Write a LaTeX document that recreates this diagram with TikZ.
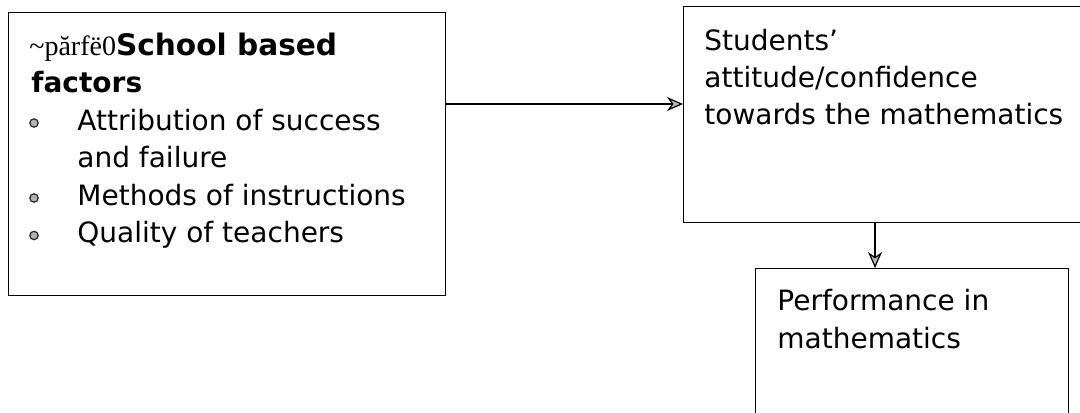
\documentclass[tikz,border=0pt]{standalone}
\usepackage{fontspec}
\setmainfont{DejaVu Sans}
\newfontfamily\oddserif{Liberation Serif}
\usetikzlibrary{arrows.meta,calc}
\begin{document}
\begin{tikzpicture}[x=0.5pt,y=-0.5pt,
  box/.style={draw=black,line width=0.7pt,rectangle,inner sep=0pt,anchor=north west},
  txt/.style={anchor=base west,inner sep=0pt,font=\fontsize{14}{18.75}\selectfont},
  bul/.style={circle,draw=black!85,fill=gray!60,line width=0.6pt,minimum size=4.2pt,inner sep=0pt},
  arr/.style={draw=black,line width=0.6pt,-{Stealth[length=8pt,width=7pt,inset=2.5pt,fill=gray!55]}}]
\useasboundingbox (0,0) rectangle (1080,412);
\clip (0,0) rectangle (1080,412);
\fill[white] (0,0) rectangle (1080,412);
% boxes
\node[box,minimum width=218.5pt,minimum height=141.5pt] (lbox) at (8,12) {};
\node[box,minimum width=215pt,minimum height=108pt] (box2) at (683,6) {};
\node[box,minimum width=156.5pt,minimum height=90pt] (box3) at (755,268) {};
% left box text
\node[txt] (l1) at (29,55) {{\oddserif\textasciitilde p\u{a}rf\"{e}0}\textbf{\fontsize{14.8}{18.75}\selectfont School based}};
\node[txt] (l2) at (31,92.5) {\textbf{factors}};
\node[bul] (b1) at (34,123) {};
\node[txt] (l3) at (77,130) {Attribution of success};
\node[txt] (l4) at (77,167.5) {and failure};
\node[bul] (b2) at (34,198) {};
\node[txt] (l5) at (77,205) {Methods of instructions};
\node[bul] (b3) at (34,235.5) {};
\node[txt] (l6) at (77,242.5) {Quality of teachers};
% box2 text
\node[txt] (s1) at (704,50) {Students’};
\node[txt] (s2) at (704,87) {attitude/confidence};
\node[txt] (s3) at (704,124) {towards the mathematics};
% box3 text
\node[txt] (p1) at (777,310) {Performance in};
\node[txt] (p2) at (777,348) {mathematics};
% connectors
\coordinate (a) at ([shift={(0,92)}]lbox.north east);
\draw[arr] (a) -- (a -| box2.west);
\coordinate (b) at ([shift={(120,0)}]box3.north west);
\draw[arr] (b |- box2.south) -- (b);
\end{tikzpicture}
\end{document}
